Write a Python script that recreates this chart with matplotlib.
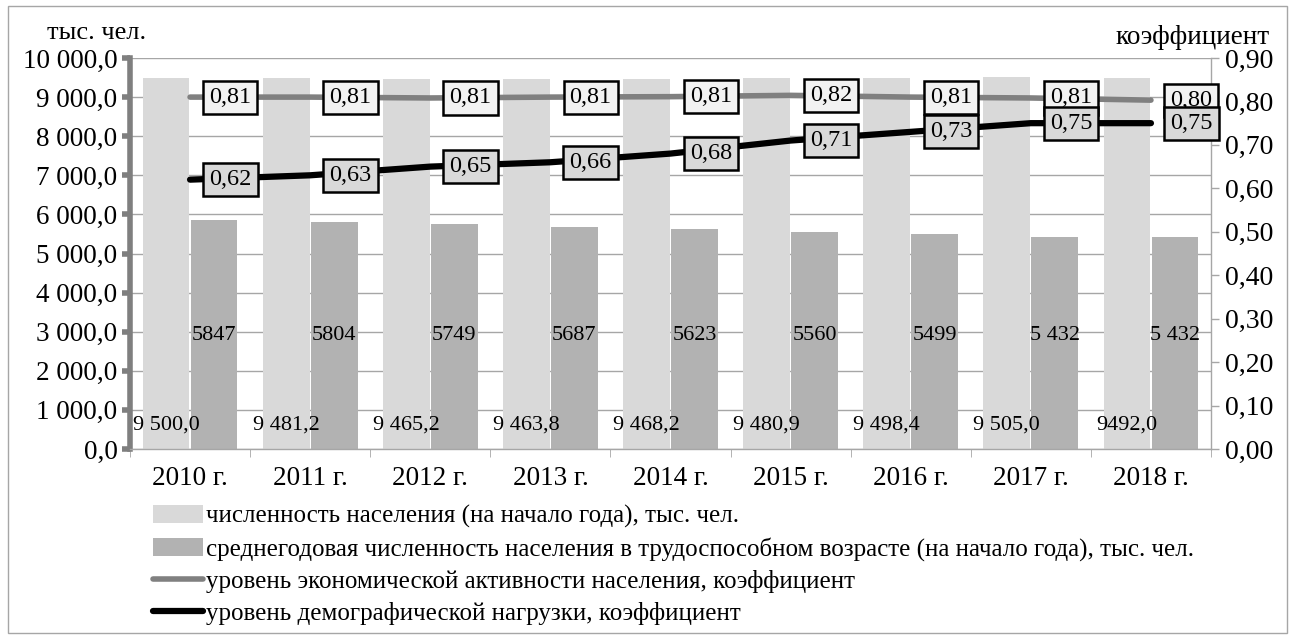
import numpy as np
import matplotlib
matplotlib.use('Agg')
import matplotlib.pyplot as plt
from matplotlib.patches import Rectangle
from matplotlib.ticker import FuncFormatter, MultipleLocator

plt.rcParams['font.family'] = ['Liberation Serif', 'DejaVu Serif']

years = ['2010 г.', '2011 г.', '2012 г.', '2013 г.', '2014 г.', '2015 г.', '2016 г.', '2017 г.', '2018 г.']
population = [9500.0, 9481.2, 9465.2, 9463.8, 9468.2, 9480.9, 9498.4, 9505.0, 9492.0]
pop_labels = ['9 500,0', '9 481,2', '9 465,2', '9 463,8', '9 468,2', '9 480,9', '9 498,4', '9 505,0', '9492,0']
working_age = [5847, 5804, 5749, 5687, 5623, 5560, 5499, 5432, 5432]
work_labels = ['5847', '5804', '5749', '5687', '5623', '5560', '5499', '5 432', '5 432']
econ_activity = [0.81, 0.81, 0.808, 0.81, 0.811, 0.814, 0.81, 0.808, 0.803]
econ_labels = ['0,81', '0,81', '0,81', '0,81', '0,81', '0,82', '0,81', '0,81', '0,80']
demo_load = [0.62, 0.63, 0.65, 0.66, 0.68, 0.71, 0.73, 0.75, 0.75]
demo_labels = ['0,62', '0,63', '0,65', '0,66', '0,68', '0,71', '0,73', '0,75', '0,75']

legend_names = ['численность населения (на начало года), тыс. чел.',
                'среднегодовая численность населения в трудоспособном возрасте (на начало года), тыс. чел.',
                'уровень экономической активности населения, коэффициент',
                'уровень демографической нагрузки, коэффициент']

W, H = 1295, 639
fig = plt.figure(figsize=(W / 100, H / 100), dpi=100)
fig.patches.append(Rectangle((8 / W, 6 / H), (1287 - 8) / W, (633 - 6) / H, transform=fig.transFigure,
                             fill=False, edgecolor='#a6a6a6', lw=1))

ax = fig.add_axes([130 / W, 1 - 449 / H, (1211 - 130) / W, (449 - 58) / H])
x = np.arange(len(years))
bw = 0.39

b1 = ax.bar(x - 0.2, population, width=bw, color='#d9d9d9', zorder=2)
b2 = ax.bar(x + 0.2, working_age, width=bw, color='#b2b2b2', zorder=2)

for i in range(len(x)):
    ax.text(x[i] - 0.2, 600, pop_labels[i], ha='center', va='center', fontsize=16, zorder=3)
    ax.text(x[i] + 0.2, 2900, work_labels[i], ha='center', va='center', fontsize=16, zorder=3)

ax.set_xlim(-0.5, len(years) - 0.5)
ax.set_ylim(0, 10000)
ax.yaxis.set_major_locator(MultipleLocator(1000))
ax.yaxis.set_major_formatter(FuncFormatter(lambda v, p: f'{v:,.1f}'.replace(',', ' ').replace('.', ',')))
ax.grid(axis='y', color='#a6a6a6', lw=1, zorder=0)
ax.set_axisbelow(True)

ax.set_xticks(x)
ax.set_xticklabels(years, fontsize=19.5)
ax.set_xticks(np.arange(-0.5, len(years)), minor=True)
ax.tick_params(axis='x', which='major', length=0, pad=12)
ax.tick_params(axis='x', which='minor', length=6, color='#a6a6a6', direction='out')
ax.tick_params(axis='y', labelsize=19.5, length=6, width=4, color='#7f7f7f', pad=3)

for s in ['top', 'right']:
    ax.spines[s].set_visible(False)
ax.spines['left'].set_color('#7f7f7f')
ax.spines['left'].set_linewidth(4)
ax.spines['bottom'].set_color('#a6a6a6')
ax.spines['bottom'].set_linewidth(1)

ax2 = ax.twinx()
ax2.set_ylim(0, 0.9)
ax2.yaxis.set_major_locator(MultipleLocator(0.1))
ax2.yaxis.set_major_formatter(FuncFormatter(lambda v, p: f'{v:.2f}'.replace('.', ',')))
ax2.tick_params(axis='y', labelsize=20, length=6, width=1, color='#a6a6a6', pad=4)
for s in ['top', 'left', 'bottom']:
    ax2.spines[s].set_visible(False)
ax2.spines['right'].set_color('#a6a6a6')
ax2.spines['right'].set_linewidth(1)

l1, = ax2.plot(x, econ_activity, color='#808080', lw=4, solid_capstyle='round', zorder=3)
l2, = ax2.plot(x, demo_load, color='black', lw=4.5, solid_capstyle='round', zorder=3)

# data labels sit to the right of each point, boxed like the Excel original
for i in range(len(x)):
    ax2.annotate(econ_labels[i], (x[i], econ_activity[i]),
                 xytext=(29, 0), textcoords='offset points', ha='center', va='center', fontsize=17.5,
                 bbox=dict(boxstyle='square,pad=0.25', fc='#f2f2f2', ec='black', lw=1.8), zorder=4)
for i in range(len(x)):
    ax2.annotate(demo_labels[i], (x[i], demo_load[i]),
                 xytext=(29, 0), textcoords='offset points', ha='center', va='center', fontsize=17.5,
                 bbox=dict(boxstyle='square,pad=0.25', fc='#d9d9d9', ec='black', lw=1.8), zorder=5)

fig.text(47 / W, 1 - 33 / H, 'тыс. чел.', fontsize=19, ha='left', va='center')
fig.text(1270 / W, 1 - 37 / H, 'коэффициент', fontsize=19.5, ha='right', va='center')

fig.legend([b1, b2, l1, l2], legend_names, loc='upper left', bbox_to_anchor=(153 / W, 1 - 505 / H),
           frameon=False, fontsize=18, handlelength=2.0, handletextpad=0.1, labelspacing=0.36,
           borderpad=0, borderaxespad=0)

fig.savefig('out.png', dpi=100)
